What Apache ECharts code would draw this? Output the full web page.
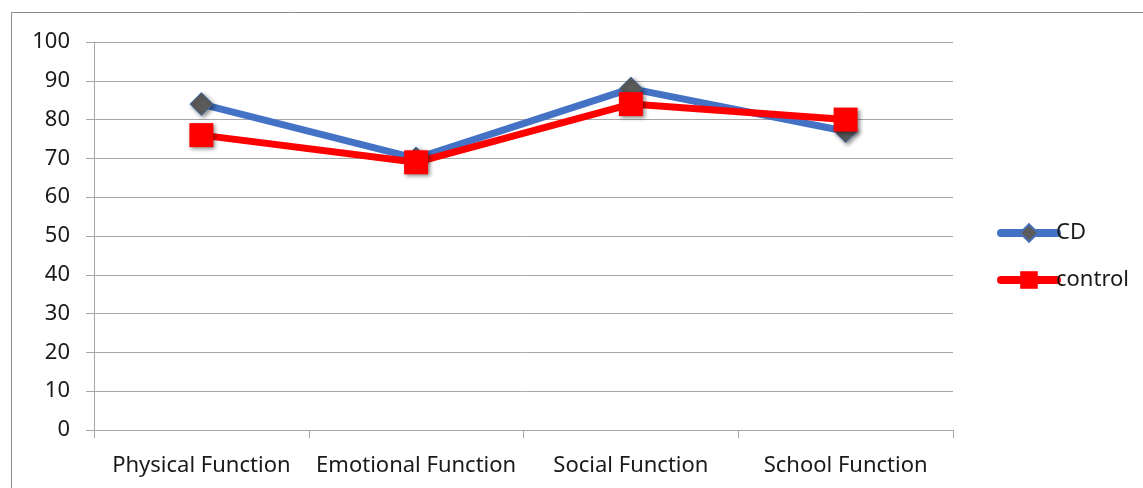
<!DOCTYPE html>
<html>
<head>
<meta charset="utf-8">
<script src="https://cdn.jsdelivr.net/npm/echarts@6/dist/echarts.min.js"></script>
<style>
html,body{margin:0;padding:0;background:#fff;}
#c{width:1143px;height:488px;}
</style>
</head>
<body>
<div id="c"></div>
<script>
var categories = ['Physical Function', 'Emotional Function', 'Social Function', 'School Function'];
var cdValues = [84, 70, 88, 77];
var controlValues = [76, 69, 84, 80];
var yTicks = [0, 10, 20, 30, 40, 50, 60, 70, 80, 90, 100];

var FONT = 'Noto Sans';
var FS = 22;
var chart = echarts.init(document.getElementById('c'), null, {renderer: 'canvas'});
var markerShadow = {shadowBlur: 4, shadowOffsetX: 2, shadowOffsetY: 2, shadowColor: 'rgba(0,0,0,0.45)'};

chart.setOption({
  animation: false,
  backgroundColor: '#fff',
  textStyle: {fontFamily: FONT},
  graphic: [
    {type: 'line', shape: {x1: 11.5, y1: 12.5, x2: 1143, y2: 12.5}, style: {stroke: '#8c8c8c', lineWidth: 1}},
    {type: 'line', shape: {x1: 11.5, y1: 12.5, x2: 11.5, y2: 488}, style: {stroke: '#8c8c8c', lineWidth: 1}}
  ],
  grid: {left: 94, right: 190, top: 42, bottom: 58, containLabel: false},
  legend: {
    orient: 'vertical',
    left: 992,
    top: 217,
    itemWidth: 56,
    itemHeight: 22,
    itemGap: 25,
    lineStyle: {width: 8, cap: 'round'},
    textStyle: {fontFamily: FONT, fontSize: FS, color: '#1a1a1a', padding: [0, 0, 0, -6]},
    data: ['CD', 'control']
  },
  xAxis: {
    type: 'category',
    data: categories,
    boundaryGap: true,
    axisLine: {show: true, lineStyle: {color: '#a6a6a6', width: 1}},
    axisTick: {show: true, length: 8, alignWithLabel: false, lineStyle: {color: '#a6a6a6'}},
    axisLabel: {fontFamily: FONT, fontSize: FS, color: '#1a1a1a', margin: 25, interval: 0},
    splitLine: {show: false}
  },
  yAxis: {
    type: 'value',
    min: 0,
    max: 100,
    interval: 10,
    axisLine: {show: true, lineStyle: {color: '#a6a6a6', width: 1}},
    axisTick: {show: true, length: 8, lineStyle: {color: '#a6a6a6'}},
    axisLabel: {
      fontFamily: FONT, fontSize: FS, color: '#1a1a1a', margin: 24,
      formatter: function (v) { return yTicks.indexOf(v) >= 0 ? String(v) : ''; }
    },
    splitLine: {show: true, lineStyle: {color: '#a6a6a6', width: 1}}
  },
  series: [
    {
      name: 'CD',
      type: 'line',
      data: cdValues,
      symbol: 'diamond',
      symbolSize: 23,
      lineStyle: {color: '#4472C4', width: 7},
      itemStyle: Object.assign({color: '#5b5b5b', borderColor: '#4a6fb5', borderWidth: 1}, markerShadow),
      z: 2
    },
    {
      name: 'control',
      type: 'line',
      data: controlValues,
      symbol: 'rect',
      symbolSize: 24,
      lineStyle: {color: '#FF0000', width: 7},
      itemStyle: Object.assign({color: '#FF0000'}, markerShadow),
      z: 3
    }
  ]
});
</script>
</body>
</html>
